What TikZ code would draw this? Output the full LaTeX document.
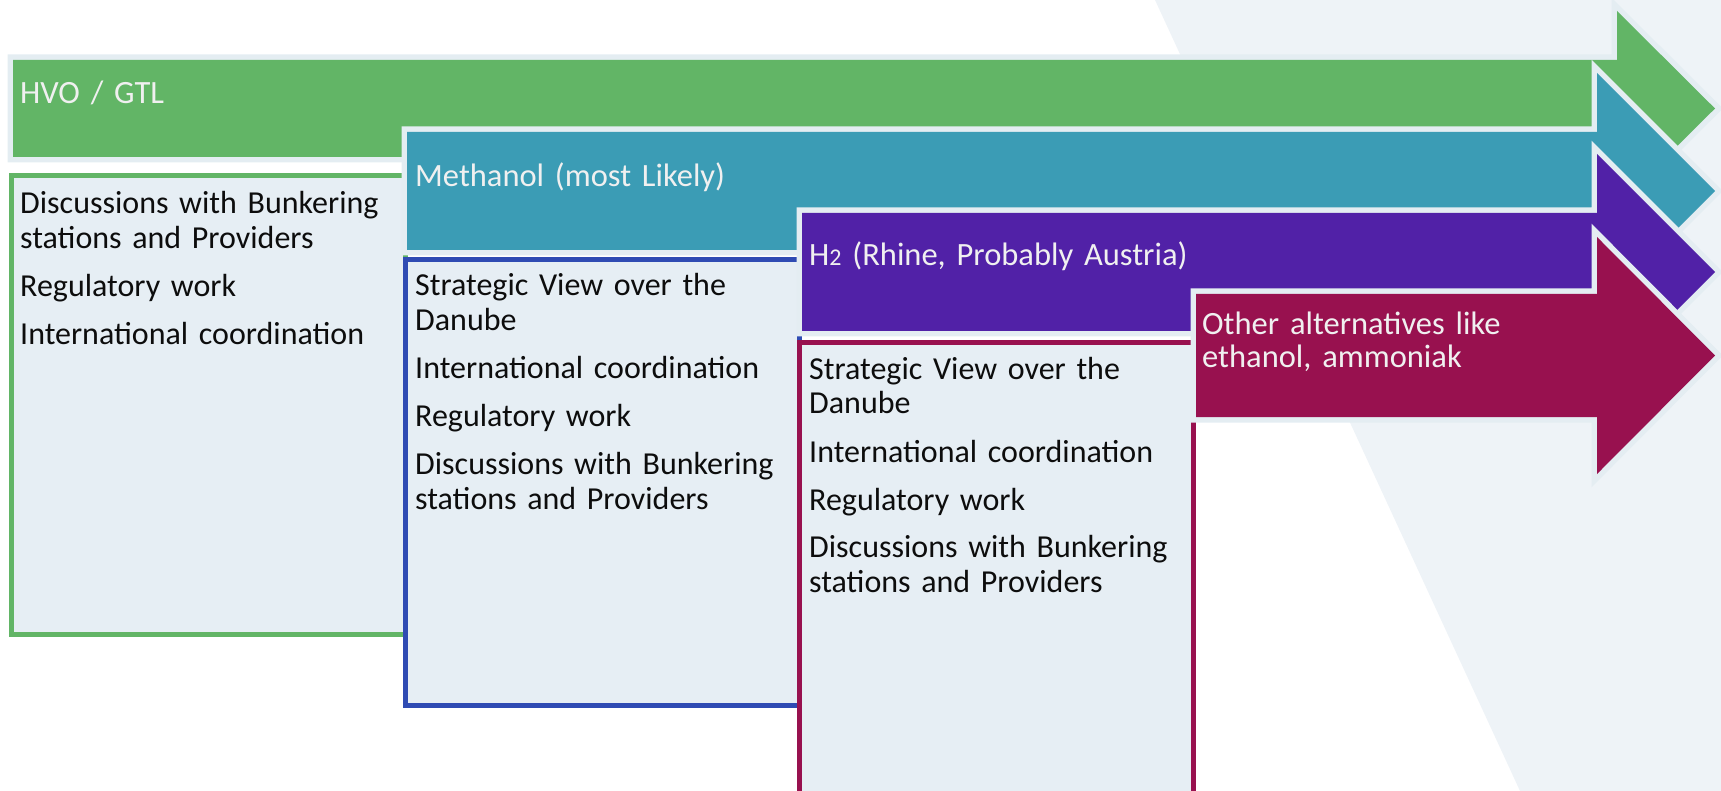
\documentclass[tikz,border=0pt]{standalone}
\usepackage{fontspec}
\setmainfont{Carlito}
\definecolor{bgc}{HTML}{EEF3F7}
\definecolor{edgec}{HTML}{E4EDF2}
\definecolor{boxc}{HTML}{E6EEF4}
\definecolor{greenc}{HTML}{62B566}
\definecolor{tealc}{HTML}{3B9CB5}
\definecolor{bluec}{HTML}{2F4BB3}
\definecolor{purplec}{HTML}{5121A7}
\definecolor{magc}{HTML}{98114F}
\definecolor{labc}{HTML}{F0F0F0}
\definecolor{txtc}{HTML}{0D0D0D}
\begin{document}
\begin{tikzpicture}[x=1pt,y=-1pt,
  arrowshape/.style={fill=#1, preaction={draw=edgec, line width=11pt, line join=miter}},
  textbox/.style={draw=#1, line width=5pt, fill=boxc},
  lab/.style={anchor=base west, inner sep=0pt, text=labc, font=\fontsize{32.5}{33}\selectfont, text width=420pt, align=left},
  body/.style={anchor=base west, inner sep=0pt, text=txtc, font=\fontsize{32}{35}\selectfont, text width=375pt, align=left}]
\useasboundingbox (0,0) rectangle (1721,791);
\fill[bgc] (1155,0) -- (1721,0) -- (1721,791) -- (1520,791) -- cycle;
% green
\path[arrowshape=greenc] (13,60) -- (1617,60) -- (1617,11) -- (1715,108.5) -- (1617,206) -- (1617,157) -- (13,157) -- cycle;
\node[lab] (hvo) at (20,104) {HVO / GTL};
\path[textbox=greenc] (11.5,175.5) rectangle (405,634.5);
\node[body] (gtext) at (20,214) {Discussions with Bunkering\\stations and Providers\\[13pt]Regulatory work\\[13pt]International coordination};
% teal
\path[arrowshape=tealc] (407,132) -- (1597,132) -- (1597,73) -- (1715,191) -- (1597,309) -- (1597,250) -- (407,250) -- cycle;
\node[lab] (meth) at (415,187) {Methanol (most Likely)};
\path[textbox=bluec] (405.5,259.5) rectangle (799.5,705.5);
\node[body] (btext) at (415,296) {Strategic View over the\\Danube\\[13pt]International coordination\\[13pt]Regulatory work\\[13pt]Discussions with Bunkering\\stations and Providers};
% purple
\path[arrowshape=purplec] (802,213) -- (1597,213) -- (1597,154) -- (1715,272) -- (1597,390) -- (1597,331) -- (802,331) -- cycle;
\node[lab] (htwo) at (809,266) {H{\fontsize{24}{24}\selectfont 2} (Rhine, Probably Austria)};
\path[textbox=magc] (799.5,342.5) rectangle (1193,800);
\node[body] (mtext) at (809,379) {Strategic View over the\\Danube\\[13pt]International coordination\\[13pt]Regulatory work\\[13pt]Discussions with Bunkering\\stations and Providers};
% magenta arrow
\path[arrowshape=magc] (1196,294) -- (1597,294) -- (1597,237) -- (1715,355.5) -- (1597,474) -- (1597,417) -- (1196,417) -- cycle;
\node[lab] (other) at (1202,335) {Other alternatives like\\ethanol, ammoniak};
\end{tikzpicture}
\end{document}
